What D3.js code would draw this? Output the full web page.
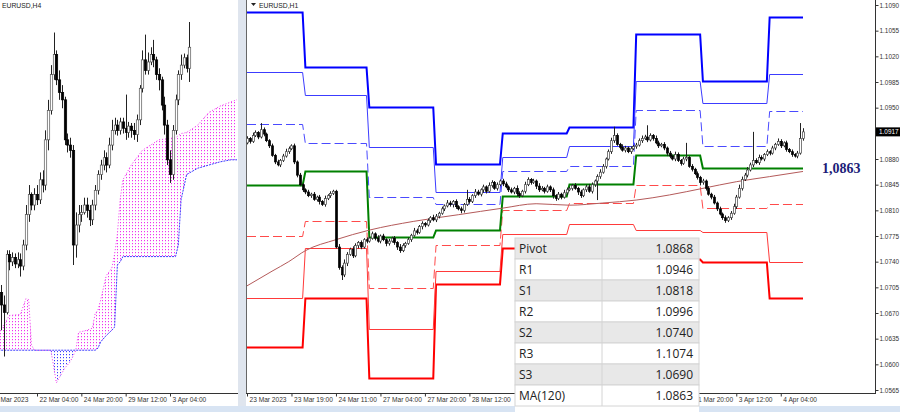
<!DOCTYPE html>
<html>
<head>
<meta charset="utf-8">
<script src="https://cdn.jsdelivr.net/npm/d3@7"></script>
<style>
  body { margin: 0; background: #fff; overflow: hidden; }
  svg { display: block; }
</style>
</head>
<body>
<div id="chart"></div>
<script>
// ---------- H4 chart (left panel) ----------
var h4FirstIdx = -1;
var h4Open0 = 1.0687;
var h4Close = [1.0675, 1.0668, 1.0723, 1.0716, 1.0720, 1.0714, 1.0718, 1.0712, 1.0732, 1.0761, 1.0780, 1.0770, 1.0780, 1.0775, 1.0794, 1.0789, 1.0832, 1.0860, 1.0894, 1.0913, 1.0889, 1.0877, 1.0870, 1.0832, 1.0827, 1.0822, 1.0732, 1.0751, 1.0761, 1.0763, 1.0770, 1.0765, 1.0756, 1.0770, 1.0784, 1.0799, 1.0808, 1.0815, 1.0808, 1.0827, 1.0841, 1.0846, 1.0841, 1.0849, 1.0843, 1.0839, 1.0845, 1.0841, 1.0837, 1.0851, 1.0881, 1.0908, 1.0898, 1.0906, 1.0913, 1.0908, 1.0894, 1.0889, 1.0865, 1.0846, 1.0813, 1.0799, 1.0841, 1.0870, 1.0894, 1.0903, 1.0910, 1.0900, 1.0920];
var h4High = [1.0694, 1.0684, 1.0727, 1.0727, 1.0725, 1.0724, 1.0725, 1.0724, 1.0737, 1.0770, 1.0789, 1.0782, 1.0786, 1.0789, 1.0801, 1.0803, 1.0841, 1.0870, 1.0903, 1.0934, 1.0917, 1.0898, 1.0884, 1.0873, 1.0838, 1.0834, 1.0827, 1.0763, 1.0770, 1.0770, 1.0777, 1.0777, 1.0770, 1.0775, 1.0789, 1.0803, 1.0813, 1.0822, 1.0820, 1.0834, 1.0851, 1.0853, 1.0851, 1.0853, 1.0853, 1.0875, 1.0849, 1.0848, 1.0848, 1.0856, 1.0884, 1.0917, 1.0932, 1.0915, 1.0920, 1.0927, 1.0911, 1.0900, 1.0892, 1.0873, 1.0851, 1.0822, 1.0846, 1.0875, 1.0898, 1.0913, 1.0914, 1.0913, 1.0944];
var h4Low = [1.0651, 1.0626, 1.0666, 1.0708, 1.0712, 1.0710, 1.0710, 1.0702, 1.0708, 1.0727, 1.0754, 1.0765, 1.0765, 1.0770, 1.0771, 1.0782, 1.0784, 1.0822, 1.0856, 1.0889, 1.0884, 1.0870, 1.0862, 1.0827, 1.0820, 1.0815, 1.0713, 1.0720, 1.0744, 1.0754, 1.0761, 1.0758, 1.0750, 1.0751, 1.0765, 1.0780, 1.0794, 1.0803, 1.0801, 1.0805, 1.0822, 1.0837, 1.0836, 1.0837, 1.0838, 1.0832, 1.0834, 1.0834, 1.0832, 1.0830, 1.0846, 1.0877, 1.0894, 1.0894, 1.0903, 1.0901, 1.0889, 1.0879, 1.0860, 1.0837, 1.0808, 1.0791, 1.0794, 1.0837, 1.0865, 1.0889, 1.0900, 1.0896, 1.0887];

// Ichimoku cloud (Senkou spans), sampled at H4 bar indexes
var cloudIdx = [-2, 0, 2, 6, 8, 9, 10, 11, 17, 19, 22, 24, 26, 27, 30, 32, 33, 34, 35, 37, 39, 40, 41, 42, 43, 46, 50, 56, 62, 63, 64, 66, 70, 74, 78, 82, 86];
var spanA = [1.0648, 1.0656, 1.0665, 1.0666, 1.0681, 1.0680, 1.0637, 1.0632, 1.0632, 1.0601, 1.0615, 1.0621, 1.0632, 1.0649, 1.0651, 1.0653, 1.0667, 1.0670, 1.0680, 1.0703, 1.0710, 1.0723, 1.0742, 1.0775, 1.0794, 1.0808, 1.0822, 1.0832, 1.0834, 1.0836, 1.0838, 1.0839, 1.0846, 1.0858, 1.0864, 1.0868, 1.0872];
var spanB = [1.0632, 1.0632, 1.0632, 1.0632, 1.0632, 1.0632, 1.0632, 1.0632, 1.0632, 1.0632, 1.0632, 1.0632, 1.0632, 1.0632, 1.0632, 1.0632, 1.0632, 1.0634, 1.0640, 1.0646, 1.0651, 1.0654, 1.0713, 1.0716, 1.0721, 1.0721, 1.0721, 1.0721, 1.0721, 1.0732, 1.0775, 1.0799, 1.0805, 1.0808, 1.0811, 1.0813, 1.0813];

var h4TickIdx = [12, 28, 44, 60];
var h4TickLabels = ["22 Mar 04:00", "24 Mar 20:00", "29 Mar 12:00", "3 Apr 04:00"];
var h4FirstLabel = "Mar 2023";

// ---------- H1 chart (right panel) ----------
var h1Open0 = 1.0902;
var h1Close = [
  1.0908, 1.0904, 1.0912, 1.0916, 1.0910, 1.0920, 1.0914, 1.0905, 1.0898, 1.0885, 1.0876, 1.0872, 1.0878, 1.0884, 1.0890, 1.0894, 1.0898, 1.0876, 1.0858, 1.0845, 1.0838,
  1.0835, 1.0830, 1.0832, 1.0825, 1.0828, 1.0822, 1.0818, 1.0826, 1.0830, 1.0833, 1.0836, 1.0760, 1.0732, 1.0722, 1.0738, 1.0750, 1.0757, 1.0748, 1.0762, 1.0766, 1.0760, 1.0770, 1.0768, 1.0772,
  1.0778, 1.0772, 1.0768, 1.0775, 1.0770, 1.0765, 1.0768, 1.0772, 1.0766, 1.0760, 1.0755, 1.0762, 1.0765, 1.0770, 1.0776, 1.0782, 1.0780, 1.0788, 1.0792, 1.0790, 1.0796, 1.0800, 1.0797, 1.0802,
  1.0806, 1.0812, 1.0816, 1.0820, 1.0818, 1.0822, 1.0815, 1.0812, 1.0810, 1.0818, 1.0825, 1.0822, 1.0830, 1.0835, 1.0832, 1.0838, 1.0842, 1.0836, 1.0844, 1.0848, 1.0840, 1.0845, 1.0850, 1.0846,
  1.0842, 1.0838, 1.0835, 1.0840, 1.0833, 1.0830, 1.0836, 1.0845, 1.0852, 1.0848, 1.0850, 1.0843, 1.0838, 1.0840, 1.0836, 1.0842, 1.0838, 1.0830, 1.0826, 1.0832, 1.0828, 1.0834, 1.0838, 1.0840,
  1.0844, 1.0840, 1.0835, 1.0830, 1.0838, 1.0842, 1.0836, 1.0845, 1.0850, 1.0856, 1.0862, 1.0870, 1.0880, 1.0890, 1.0905, 1.0912, 1.0900, 1.0896, 1.0892, 1.0895, 1.0890, 1.0894, 1.0897, 1.0899,
  1.0905, 1.0908, 1.0910, 1.0906, 1.0912, 1.0908, 1.0902, 1.0898, 1.0900, 1.0895, 1.0888, 1.0884, 1.0880, 1.0886, 1.0878, 1.0874, 1.0880, 1.0882, 1.0870, 1.0866, 1.0860, 1.0855, 1.0848, 1.0850,
  1.0840, 1.0832, 1.0828, 1.0820, 1.0812, 1.0805, 1.0800, 1.0796, 1.0800, 1.0806, 1.0815, 1.0828, 1.0840, 1.0852, 1.0858, 1.0865, 1.0872, 1.0878, 1.0875, 1.0882, 1.0880, 1.0886, 1.0890, 1.0888,
  1.0895, 1.0900, 1.0904, 1.0898, 1.0902, 1.0893, 1.0890, 1.0886, 1.0884, 1.0888, 1.0908, 1.0917];
// wick lengths in pips above / below the body
var h1WickUp = [
  3,2,4,3,2,9,3,2,2,3,2,3,2,3,4,3,2,3,2,3,2,
  2,3,2,3,2,3,2,4,2,3,2,2,4,3,5,3,2,4,3,2,3,2,3,2,
  3,2,4,2,3,2,3,2,3,2,4,3,2,3,2,4,3,2,3,2,3,2,4,3,
  2,3,2,4,3,2,3,2,3,2,13,3,2,4,3,2,3,2,4,3,2,3,2,3,
  3,2,3,2,4,3,2,4,3,2,3,2,4,3,2,3,2,3,2,3,2,4,3,2,
  2,3,2,3,2,3,4,3,2,3,4,3,2,3,4,12,3,2,4,3,2,3,2,3,
  3,4,3,16,3,2,4,3,2,3,2,3,2,4,3,2,3,20,2,3,2,3,2,3,
  2,3,2,3,2,3,2,3,2,3,4,3,5,4,3,4,3,39,3,4,3,2,3,2,
  3,2,4,3,2,3,2,3,2,3,21,5];
var h1WickDn = [
  2,3,2,2,3,2,3,2,3,2,3,2,3,2,2,3,2,3,3,2,3,
  3,2,3,2,3,4,2,3,2,3,2,2,3,7,3,4,2,3,2,4,3,2,3,2,
  2,3,2,3,2,4,3,2,3,4,3,2,3,2,3,2,3,2,4,3,2,3,2,3,
  3,2,3,2,3,4,3,2,4,3,2,3,2,3,2,3,4,3,2,3,2,3,2,3,
  2,3,2,3,4,3,2,3,2,3,2,4,3,2,3,2,3,4,3,2,3,2,3,2,
  3,2,4,3,2,3,2,3,3,26,3,2,3,2,3,3,2,3,2,3,2,3,2,3,
  2,3,2,3,2,3,2,3,2,3,4,3,2,3,2,3,2,3,2,3,2,3,4,3,
  3,2,3,2,3,2,3,3,2,3,2,3,2,3,2,3,2,3,2,3,2,3,2,3,
  2,3,2,3,2,3,2,3,2,3,2,3];

// daily pivot levels, one value per trading day
var dayStart = [0, 21, 44, 68, 92, 116, 140, 164, 188];
var levelR3 = [1.1081, 1.1005, 1.0951, 1.0873, 1.0916, 1.0924, 1.1050, 1.0987, 1.1074];
var levelR2 = [1.0998, 1.0967, 1.0896, 1.0835, 1.0883, 1.0898, 1.0987, 1.0956, 1.0996];
var levelR1 = [1.0928, 1.0902, 1.0828, 1.0818, 1.0863, 1.0871, 1.0947, 1.0898, 1.0946];
var levelP  = [1.0845, 1.0863, 1.0773, 1.0783, 1.0830, 1.0846, 1.0885, 1.0868, 1.0868];
var levelS1 = [1.0775, 1.0795, 1.0704, 1.0763, 1.0810, 1.0820, 1.0845, 1.0813, 1.0818];
var levelS2 = [1.0691, 1.0758, 1.0648, 1.0727, 1.0778, 1.0791, 1.0783, 1.0780, 1.0740];
var levelS3 = [1.0623, 1.0691, 1.0582, 1.0709, 1.0759, 1.0770, 1.0744, 1.0740, 1.0690];

// MA(120) read at a few bars
var maIdx = [0, 9, 15, 21, 32, 44, 60, 76, 92, 104, 116, 128, 140, 152, 164, 176, 188, 200];
var maVal = [1.0707, 1.0727, 1.0740, 1.0755, 1.0770, 1.0783, 1.0795, 1.0804, 1.0813, 1.0819, 1.0817, 1.0820, 1.0824, 1.0831, 1.0840, 1.0849, 1.0856, 1.0863];

// time labels that are not hidden by the levels table
var h1TickIdx = [0, 16, 32, 48, 64, 80, 160, 176, 192];
var h1TickLabels = ["23 Mar 2023", "23 Mar 19:00", "24 Mar 11:00", "27 Mar 04:00", "27 Mar 20:00", "28 Mar 12:00", "31 Mar 20:00", "3 Apr 12:00", "4 Apr 04:00"];
var priceTicks = [1.1090, 1.1055, 1.1020, 1.0985, 1.0950, 1.0880, 1.0845, 1.0810, 1.0775, 1.0740, 1.0705, 1.0670, 1.0635, 1.0600, 1.0565];
var lastPrice = 1.0917;
var maLabel = "1,0863";

var tableNames = ["Pivot", "R1", "S1", "R2", "S2", "R3", "S3", "MA(120)"];
var tableValues = ["1.0868", "1.0946", "1.0818", "1.0996", "1.0740", "1.1074", "1.0690", "1.0863"];

// ---------------------------------------------------------------
var axisFont = "Liberation Sans, Arial, sans-serif";

var svg = d3.select("#chart")
  .append("svg")
  .attr("width", 900)
  .attr("height", 412);

var defs = svg.append("defs");

// build candle objects
function makeCandles(first, open0, closes, highs, lows) {
  return closes.map(function(c, k) {
    var o = k === 0 ? open0 : closes[k - 1];
    return {i: first + k, o: o, c: c,
      h: Math.max(highs[k], o, c), l: Math.min(lows[k], o, c)};
  });
}

function drawCandles(g, data, x, y, bw, upFill, upStroke) {
  g.selectAll(".wick").data(data).enter().append("line")
    .attr("x1", function(d){ return Math.round(x(d.i)) + 0.5; })
    .attr("x2", function(d){ return Math.round(x(d.i)) + 0.5; })
    .attr("y1", function(d){ return y(d.h); })
    .attr("y2", function(d){ return y(d.l); })
    .attr("stroke", "#222")
    .attr("stroke-width", 1);
  g.selectAll(".body").data(data).enter().append("rect")
    .attr("x", function(d){ return Math.round(x(d.i)) + 0.5 - bw / 2; })
    .attr("width", bw)
    .attr("y", function(d){ return y(Math.max(d.o, d.c)); })
    .attr("height", function(d){ return Math.max(1, Math.abs(y(d.o) - y(d.c))); })
    .attr("fill", function(d){ return d.c >= d.o ? upFill : "#000"; })
    .attr("stroke", function(d){ return d.c >= d.o ? upStroke : "#000"; })
    .attr("stroke-width", 0.7);
}

// ================= LEFT PANEL (H4 + Ichimoku) =================
var xL = d3.scaleLinear().domain([0, 60]).range([3.76, 170]);
var yL = d3.scaleLinear().domain([1.0713, 1.0944]).range([265, 22]);

defs.append("clipPath").attr("id", "clipL")
  .append("rect").attr("x", 0).attr("y", 0).attr("width", 237).attr("height", 393);

// dotted hatch patterns for the cloud
[["hatchMag", "#f030f0"], ["hatchBlue", "#3a3aff"]].forEach(function(p) {
  var pat = defs.append("pattern").attr("id", p[0])
    .attr("patternUnits", "userSpaceOnUse").attr("width", 3).attr("height", 3);
  pat.append("rect").attr("x", 0).attr("y", 0).attr("width", 1).attr("height", 1.2).attr("fill", p[1]);
});

var left = svg.append("g").attr("clip-path", "url(#clipL)");

var cloud = cloudIdx.map(function(j, k) { return {j: j, a: spanA[k], b: spanB[k]}; });

// magenta where span A is above span B, blue where B is above A
left.append("path").datum(cloud)
  .attr("fill", "url(#hatchMag)")
  .attr("d", d3.area()
    .x(function(d){ return xL(d.j); })
    .y0(function(d){ return yL(Math.min(d.a, d.b)); })
    .y1(function(d){ return yL(d.a); }));
left.append("path").datum(cloud)
  .attr("fill", "url(#hatchBlue)")
  .attr("d", d3.area()
    .x(function(d){ return xL(d.j); })
    .y0(function(d){ return yL(Math.min(d.a, d.b)); })
    .y1(function(d){ return yL(d.b); }));
left.append("path").datum(cloud)
  .attr("fill", "none").attr("stroke", "#f030f0").attr("stroke-width", 1)
  .attr("stroke-dasharray", "1,2")
  .attr("d", d3.line().x(function(d){ return xL(d.j); }).y(function(d){ return yL(d.a); }));
left.append("path").datum(cloud)
  .attr("fill", "none").attr("stroke", "#3a3aff").attr("stroke-width", 1)
  .attr("stroke-dasharray", "2,1")
  .attr("d", d3.line().x(function(d){ return xL(d.j); }).y(function(d){ return yL(d.b); }));

var h4 = makeCandles(h4FirstIdx, h4Open0, h4Close, h4High, h4Low);
drawCandles(left.append("g"), h4, xL, yL, 2.4, "#fff", "#555");

left.append("text")
  .attr("x", 2).attr("y", 8)
  .style("font-family", axisFont).style("font-size", "6.8px").style("fill", "#222")
  .text("EURUSD,H4");

// left time axis
svg.append("line").attr("x1", 0).attr("x2", 238).attr("y1", 393.5).attr("y2", 393.5)
  .attr("stroke", "#333");
var axL = svg.append("g").attr("transform", "translate(0,393.5)")
  .call(d3.axisBottom(xL).tickValues(h4TickIdx).tickSize(3).tickPadding(1)
    .tickFormat(function(d, k){ return h4TickLabels[k]; }));
axL.select(".domain").remove();
axL.selectAll("line").attr("stroke", "#333");
axL.selectAll("text").attr("text-anchor", "start").attr("x", 2)
  .style("font-family", axisFont).style("font-size", "6.6px").style("fill", "#333");
svg.append("text").attr("x", 0.5).attr("y", 402)
  .style("font-family", axisFont).style("font-size", "6.6px").style("fill", "#333")
  .text(h4FirstLabel);

// ================= SEPARATOR =================
svg.append("rect").attr("x", 238).attr("y", 0).attr("width", 8).attr("height", 412)
  .attr("fill", "#dfe5ee");
svg.append("line").attr("x1", 246.5).attr("x2", 246.5).attr("y1", 0).attr("y2", 394)
  .attr("stroke", "#666");
svg.append("rect").attr("x", 0).attr("y", 406).attr("width", 900).attr("height", 6)
  .attr("fill", "#d8e4f3");

// ================= RIGHT PANEL (H1 + pivots) =================
var xR = d3.scaleLinear().domain([0, 200]).range([247, 803]);
var yR = d3.scaleLinear().domain([1.0565, 1.1090]).range([390, 5]);

defs.append("clipPath").attr("id", "clipR")
  .append("rect").attr("x", 247).attr("y", 0).attr("width", 628).attr("height", 393);

var right = svg.append("g").attr("clip-path", "url(#clipR)");

function levelPoints(vals) {
  var pts = [];
  vals.forEach(function(v, d) {
    var end = d < dayStart.length - 1 ? dayStart[d + 1] - 1 : 200;
    pts.push([dayStart[d], v]);
    pts.push([end, v]);
  });
  return pts;
}

var levelLine = d3.line()
  .x(function(d){ return xR(d[0]); })
  .y(function(d){ return Math.round(yR(d[1])) + 0.5; });

var levels = [
  {vals: levelS3, color: "#ff0000", w: 2,   dash: null},
  {vals: levelS2, color: "#ff3a3a", w: 1,   dash: null},
  {vals: levelS1, color: "#ff4a4a", w: 1,   dash: "9,4"},
  {vals: levelR3, color: "#0000ff", w: 2,   dash: null},
  {vals: levelR2, color: "#3c3cff", w: 1,   dash: null},
  {vals: levelR1, color: "#4a4aff", w: 1,   dash: "9,4"},
  {vals: levelP,  color: "#008000", w: 2,   dash: null}
];
levels.forEach(function(lv) {
  right.append("path").datum(levelPoints(lv.vals))
    .attr("fill", "none")
    .attr("stroke", lv.color)
    .attr("stroke-width", lv.w)
    .attr("stroke-dasharray", lv.dash)
    .attr("d", levelLine);
});

// MA(120)
right.append("path")
  .datum(maIdx.map(function(i, k){ return [i, maVal[k]]; }))
  .attr("fill", "none").attr("stroke", "#b45a5a").attr("stroke-width", 1)
  .attr("d", d3.line().curve(d3.curveMonotoneX)
    .x(function(d){ return xR(d[0]); }).y(function(d){ return yR(d[1]); }));

var h1High = h1Close.map(function(c, k){
  var o = k === 0 ? h1Open0 : h1Close[k - 1];
  return Math.max(o, c) + h1WickUp[k] / 10000; });
var h1Low = h1Close.map(function(c, k){
  var o = k === 0 ? h1Open0 : h1Close[k - 1];
  return Math.min(o, c) - h1WickDn[k] / 10000; });
var h1 = makeCandles(0, h1Open0, h1Close, h1High, h1Low);
drawCandles(right.append("g"), h1, xR, yR, 2, "#fff", "#444");

// title
svg.append("path").attr("d", "M251,3 L256,3 L253.5,6 Z").attr("fill", "#222");
svg.append("text").attr("x", 259).attr("y", 8)
  .style("font-family", axisFont).style("font-size", "6.8px").style("fill", "#222")
  .text("EURUSD,H1");

// price axis
var axY = svg.append("g").attr("transform", "translate(875.5,0)")
  .call(d3.axisRight(yR).tickValues(priceTicks).tickSize(3).tickPadding(1)
    .tickFormat(d3.format(".4f")));
axY.select(".domain").attr("d", "M0,0V393").attr("stroke", "#333");
axY.selectAll("line").attr("stroke", "#333");
axY.selectAll("text")
  .style("font-family", axisFont).style("font-size", "6.4px").style("fill", "#333");

// time axis
svg.append("line").attr("x1", 246).attr("x2", 876).attr("y1", 393.5).attr("y2", 393.5)
  .attr("stroke", "#333");
var axX = svg.append("g").attr("transform", "translate(0,393.5)")
  .call(d3.axisBottom(xR).tickValues(h1TickIdx).tickSize(3).tickPadding(1)
    .tickFormat(function(d, k){ return h1TickLabels[k]; }));
axX.select(".domain").remove();
axX.selectAll("line").attr("stroke", "#333");
axX.selectAll("text").attr("text-anchor", "start").attr("x", 2)
  .style("font-family", axisFont).style("font-size", "6.6px").style("fill", "#333");

// current price marker
svg.append("rect").attr("x", 876).attr("y", yR(lastPrice) - 4.5)
  .attr("width", 24).attr("height", 9).attr("fill", "#000");
svg.append("text").attr("x", 879).attr("y", yR(lastPrice) + 2.3)
  .style("font-family", axisFont).style("font-size", "6.4px").style("fill", "#fff")
  .text(d3.format(".4f")(lastPrice));

// MA value label
svg.append("text").attr("x", 822).attr("y", yR(maVal[maVal.length - 1]) + 2)
  .style("font-family", "Liberation Serif, Times New Roman, serif")
  .style("font-weight", "bold").style("font-size", "14px").style("fill", "#1c1c78")
  .text(maLabel);

// ================= LEVELS TABLE =================
var tX = 515, tY = 238, rowH = 21, tW = 184, colX = 87;
var table = svg.append("g").attr("transform", "translate(" + tX + "," + tY + ")");
table.append("rect").attr("x", 0).attr("y", 0).attr("width", tW).attr("height", 412 - tY)
  .attr("fill", "#fff");
var rows = table.selectAll(".row").data(tableNames).enter().append("g")
  .attr("transform", function(d, k){ return "translate(0," + (k * rowH) + ")"; });
rows.append("rect")
  .attr("width", tW).attr("height", rowH)
  .attr("fill", function(d, k){ return k % 2 === 0 ? "#e8e8e8" : "#fff"; })
  .attr("stroke", "#d4d4d4").attr("stroke-width", 1);
rows.append("line").attr("x1", colX).attr("x2", colX).attr("y1", 0).attr("y2", rowH)
  .attr("stroke", "#d4d4d4");
rows.append("text").attr("x", 4).attr("y", 15)
  .style("font-family", "Open Sans, Noto Sans, sans-serif").style("font-size", "12px").style("fill", "#222")
  .text(function(d){ return d; });
rows.append("text").attr("x", tW - 6).attr("y", 15).attr("text-anchor", "end")
  .style("font-family", "Open Sans, Noto Sans, sans-serif").style("font-size", "12px").style("fill", "#222")
  .text(function(d, k){ return tableValues[k]; });
</script>
</body>
</html>
